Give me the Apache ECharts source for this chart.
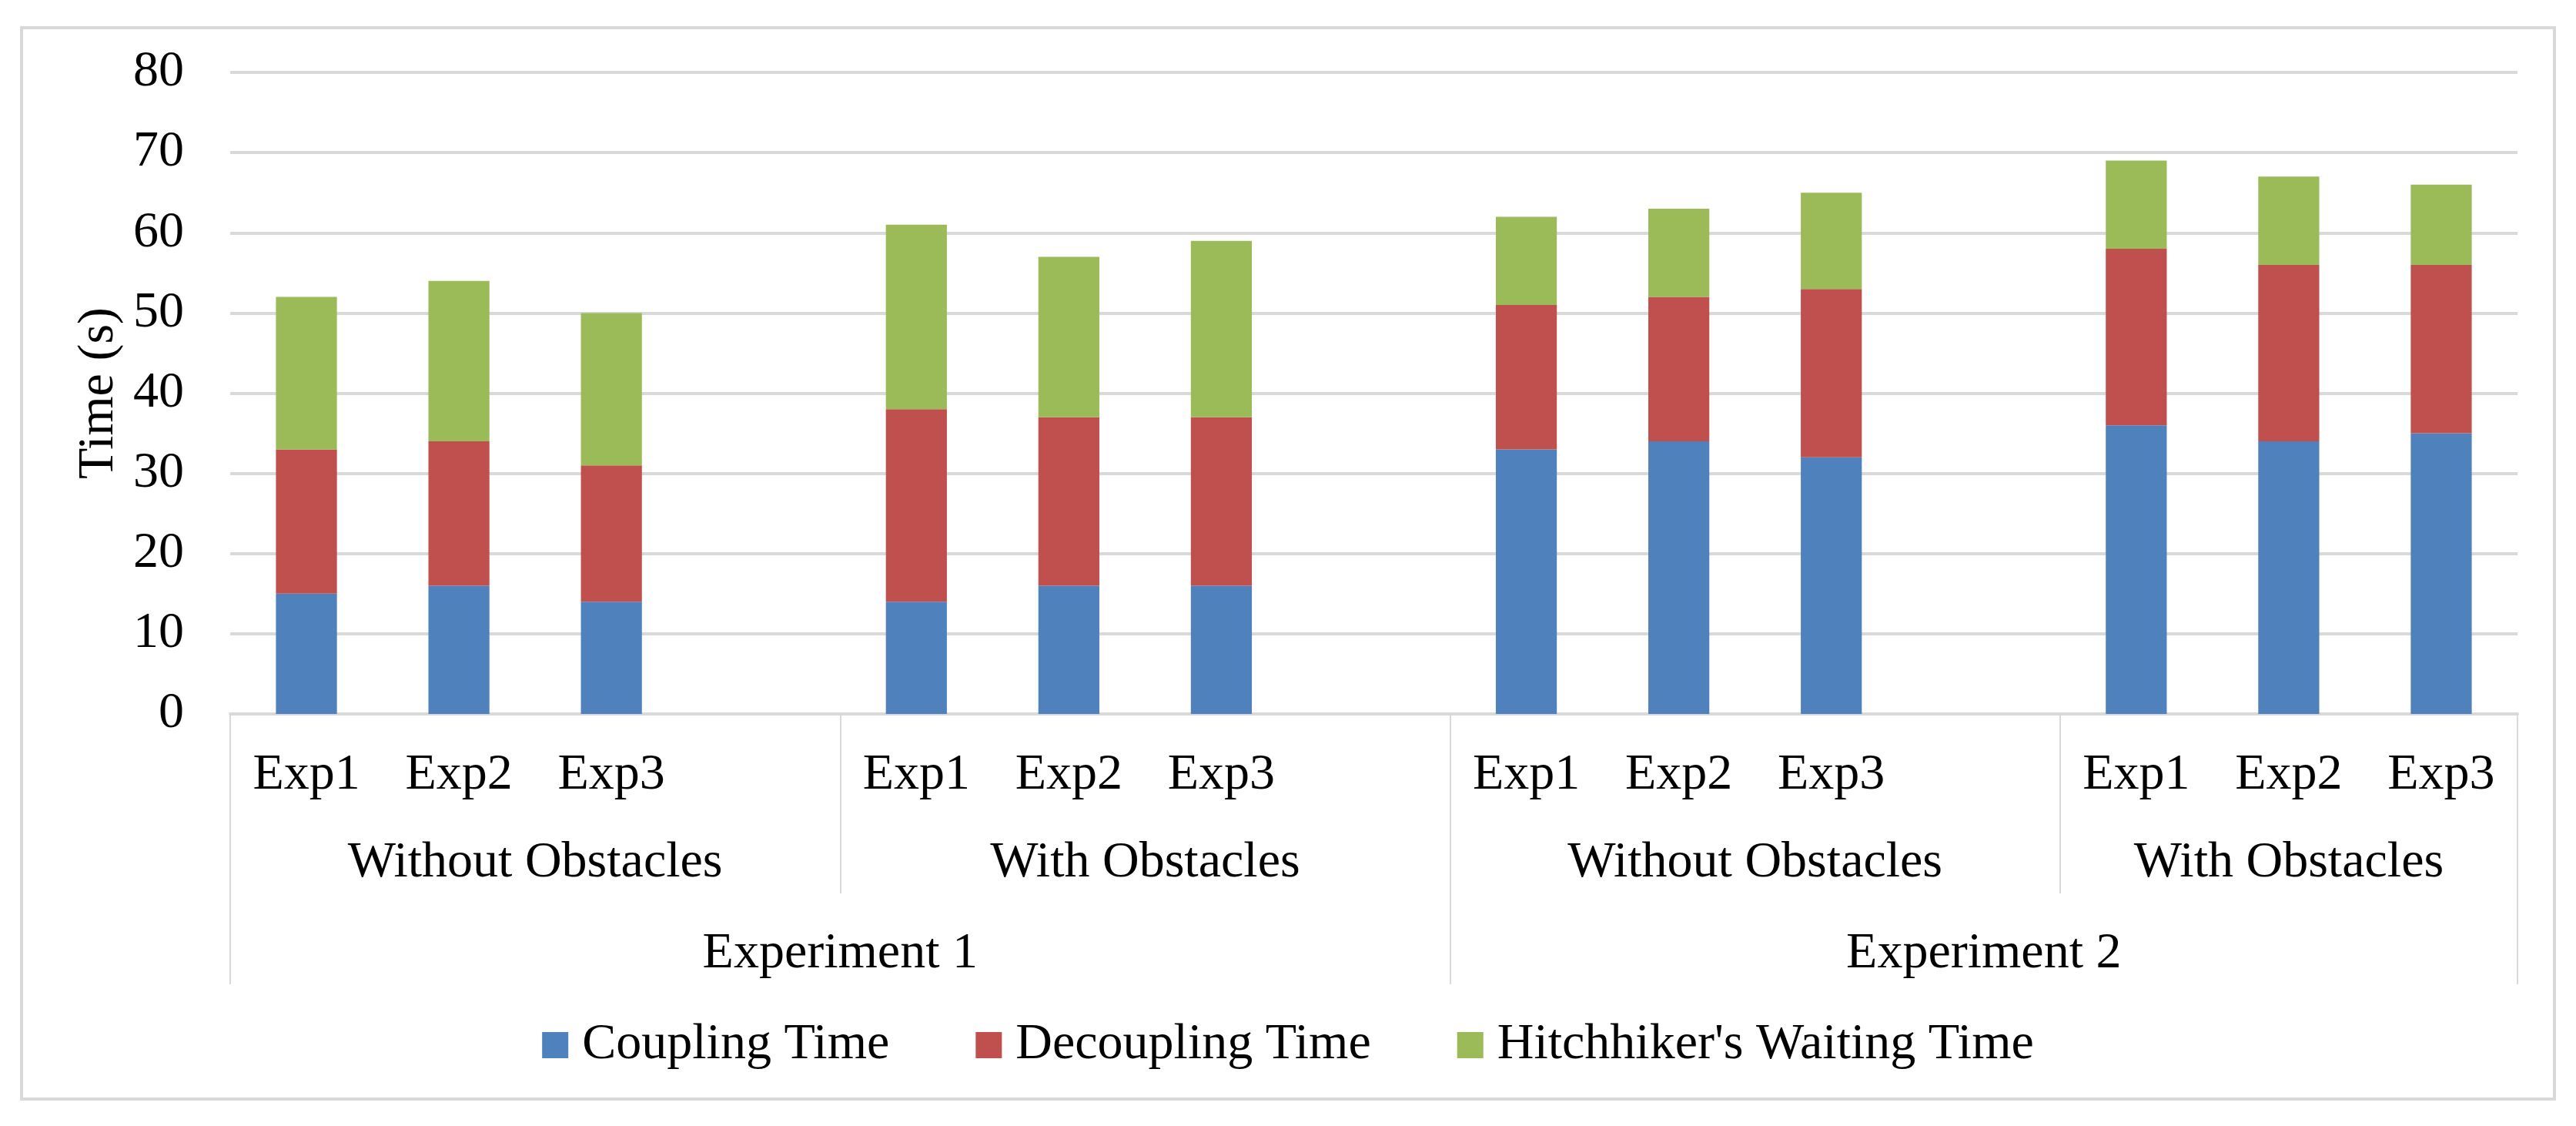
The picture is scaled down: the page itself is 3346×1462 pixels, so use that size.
<!DOCTYPE html>
<html>
<head>
<meta charset="utf-8">
<script src="https://cdn.jsdelivr.net/npm/echarts@6/dist/echarts.min.js"></script>
<style>
  html, body { margin: 0; padding: 0; background: #ffffff; }
  #frame { position: absolute; left: 26px; top: 34px; width: 3294px; height: 1395px; box-sizing: border-box; border: 4px solid #d9d9d9; }
  #chart { position: absolute; left: 0; top: 0; width: 3346px; height: 1462px; }
</style>
</head>
<body>
<div id="frame"></div>
<div id="chart"></div>
<script>
// ---- data ----
const categories = ['Exp1','Exp2','Exp3','', 'Exp1','Exp2','Exp3','', 'Exp1','Exp2','Exp3','', 'Exp1','Exp2','Exp3'];
const couplingTime   = [15, 16, 14, null, 14, 16, 16, null, 33, 34, 32, null, 36, 34, 35];
const decouplingTime = [18, 18, 17, null, 24, 21, 21, null, 18, 18, 21, null, 22, 22, 21];
const waitingTime    = [19, 20, 19, null, 23, 20, 22, null, 11, 11, 12, null, 11, 11, 10];
const seriesNames = ['Coupling Time', 'Decoupling Time', "Hitchhiker's Waiting Time"];
const groupLabels = ['Without Obstacles', 'With Obstacles', 'Without Obstacles', 'With Obstacles'];
const groupSlots = [4, 4, 4, 3];
const experimentLabels = ['Experiment 1', 'Experiment 2'];
const experimentGroups = [2, 2];
const yTicks = [0, 10, 20, 30, 40, 50, 60, 70, 80];

// ---- derived positions (in category-slot units) ----
const groupBounds = [0];
groupSlots.forEach(n => groupBounds.push(groupBounds[groupBounds.length - 1] + n));
const groupCenters = groupSlots.map((n, i) => groupBounds[i] + n / 2);
const expBounds = [0];
let gi = 0;
experimentGroups.forEach(c => { gi += c; expBounds.push(groupBounds[gi]); });
const expCenters = experimentLabels.map((_, i) => (expBounds[i] + expBounds[i + 1]) / 2);
const innerBounds = groupBounds.filter(b => expBounds.indexOf(b) < 0);
const total = groupBounds[groupBounds.length - 1];

const FONT = '"Liberation Serif", "Times New Roman", serif';
const FS = 66;
const GRID_C = '#d9d9d9';

function labelAt(centers, labels) {
  return function (v) {
    for (let i = 0; i < centers.length; i++) if (Math.abs(centers[i] - v) < 1e-6) return labels[i];
    return '';
  };
}

const chart = echarts.init(document.getElementById('chart'), null, { renderer: 'canvas' });
chart.setOption({
  backgroundColor: 'transparent',
  animation: false,
  textStyle: { fontFamily: FONT },
  color: ['#4f81bd', '#c0504d', '#9bbb59'],
  grid: { left: 299, right: 76, top: 94, bottom: 535, containLabel: false, outerBoundsMode: 'none' },
  legend: {
    left: 'center', top: 1319,
    itemWidth: 34, itemHeight: 34, itemGap: 112,
    icon: 'rect',
    textStyle: { fontFamily: FONT, fontSize: FS, color: '#000', padding: [0, 0, 0, 13] },
    data: seriesNames
  },
  xAxis: [
    {
      type: 'category', data: categories, boundaryGap: true,
      axisLine: { show: true, lineStyle: { color: GRID_C, width: 4 } },
      axisTick: { show: false },
      axisLabel: { interval: 0, fontFamily: FONT, fontSize: FS, color: '#000', margin: 47, lineHeight: 66 },
      splitLine: { show: false }
    },
    {
      type: 'value', min: 0, max: total, position: 'bottom', offset: 0,
      axisLine: { show: false },
      splitLine: { show: false },
      axisTick: { show: true, customValues: expBounds, length: 351, lineStyle: { color: GRID_C, width: 2 } },
      axisLabel: { customValues: expCenters, formatter: labelAt(expCenters, experimentLabels), fontFamily: FONT, fontSize: FS, color: '#000', margin: 279, lineHeight: 66 }
    },
    {
      type: 'value', min: 0, max: total, position: 'bottom', offset: 0,
      axisLine: { show: false },
      splitLine: { show: false },
      axisTick: { show: true, customValues: innerBounds, length: 233, lineStyle: { color: GRID_C, width: 2 } },
      axisLabel: { customValues: groupCenters, formatter: labelAt(groupCenters, groupLabels), fontFamily: FONT, fontSize: FS, color: '#000', margin: 161, lineHeight: 66 }
    }
  ],
  yAxis: {
    type: 'value', min: 0, max: 80, interval: 10,
    name: 'Time (s)', nameLocation: 'middle', nameRotate: 90, nameGap: 135,
    nameTextStyle: { fontFamily: FONT, fontSize: FS, color: '#000' },
    axisLine: { show: false }, axisTick: { show: false },
    axisLabel: { fontFamily: FONT, fontSize: FS, color: '#000', margin: 60,
      formatter: v => (yTicks.indexOf(v) >= 0 ? String(v) : '') },
    splitLine: { show: true, lineStyle: { color: GRID_C, width: 4 } }
  },
  series: [
    { name: seriesNames[0], type: 'bar', stack: 'total', barWidth: '40%', data: couplingTime },
    { name: seriesNames[1], type: 'bar', stack: 'total', barWidth: '40%', data: decouplingTime },
    { name: seriesNames[2], type: 'bar', stack: 'total', barWidth: '40%', data: waitingTime }
  ]
});
</script>
</body>
</html>
